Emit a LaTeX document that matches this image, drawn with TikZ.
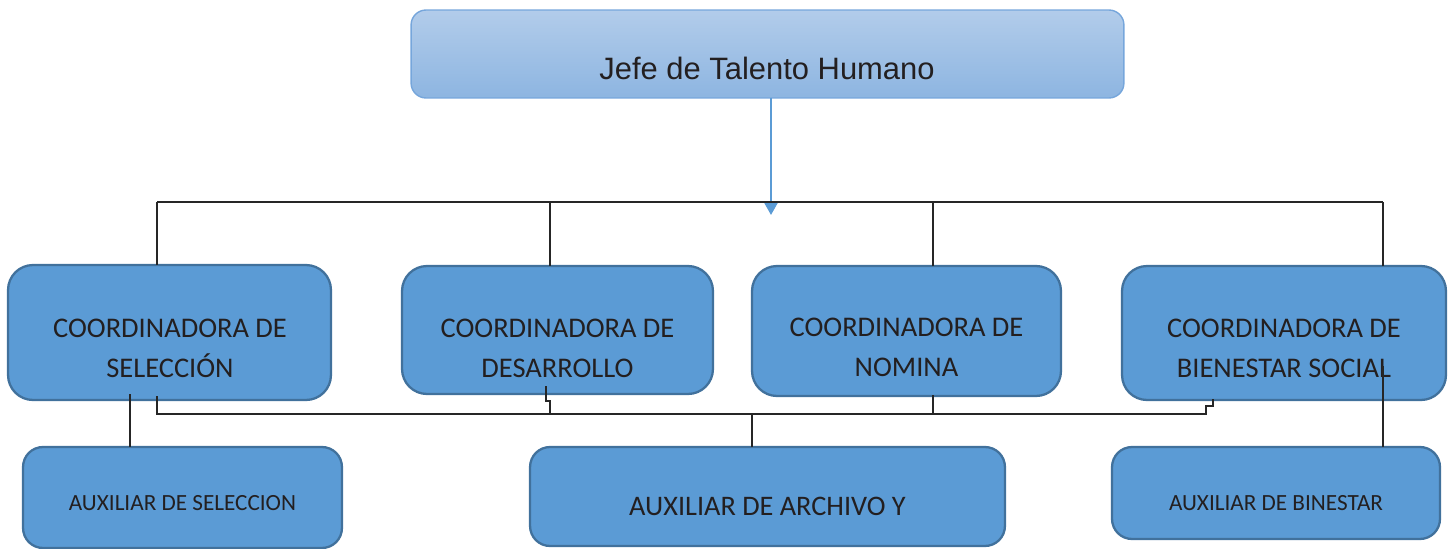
\documentclass[tikz,border=0pt]{standalone}
\usepackage{fontspec}
\setmainfont{Carlito}
\newfontfamily\headfont{Liberation Sans}
\usetikzlibrary{arrows.meta}
\definecolor{boxblue}{RGB}{91,155,213}
\definecolor{boxedge}{RGB}{65,113,156}
\definecolor{headtop}{RGB}{178,204,234}
\definecolor{headbot}{RGB}{141,181,225}
\definecolor{headedge}{RGB}{118,166,219}
\definecolor{textgray}{RGB}{35,31,32}
\tikzset{
  unit/.style={draw=boxedge, line width=1.3pt, fill=boxblue, inner sep=0pt, outer sep=0pt},
  head/.style={draw=headedge, line width=0.8pt, top color=headtop, bottom color=headbot,
    rounded corners=0.3cm, inner sep=0pt, outer sep=0pt},
  bigtext/.style={font=\fontsize{16.2}{22.8}\selectfont, text=textgray, align=center},
  smalltext/.style={font=\fontsize{13.2}{16}\selectfont, text=textgray},
  link/.style={draw=black!85, line width=0.8pt},
}

\begin{document}
\begin{tikzpicture}[x=0.02cm, y=-0.02cm]
  \useasboundingbox (0,0) rectangle (1454,548);

  % top box
  \node[head, minimum width=14.26cm, minimum height=1.76cm] (jefe) at (767.5,54) {};
  \node[anchor=base, font=\headfont\fontsize{17.6}{20}\selectfont, text=textgray] (jefetext) at (767,79) {Jefe de Talento Humano};

  % coordinators
  \foreach \n/\x/\y/\w/\h in {c1/169.5/332.5/6.46/2.70, c2/557.5/330/6.22/2.56,
                              c3/906.5/331/6.18/2.60, c4/1284/333/6.48/2.68}
    \node[unit, rounded corners=0.5cm, minimum width=\w cm, minimum height=\h cm] (\n) at (\x,\y) {};
  \node[bigtext] (c1text) at (170,348) {COORDINADORA DE\\SELECCIÓN};
  \node[bigtext] (c2text) at (557.5,348) {COORDINADORA DE\\DESARROLLO};
  \node[bigtext] (c3text) at (906.5,347) {COORDINADORA DE\\NOMINA};
  \node[bigtext] (c4text) at (1284,348) {COORDINADORA DE\\BIENESTAR SOCIAL};

  % assistants
  \foreach \n/\x/\y/\w/\h in {a1/182.5/497.5/6.38/2.02, a2/767.5/496.5/9.50/1.98, a3/1276/493/6.56/1.84}
    \node[unit, rounded corners=0.4cm, minimum width=\w cm, minimum height=\h cm] (\n) at (\x,\y) {};
  \node[smalltext, anchor=base] (a1text) at (182.5,510) {AUXILIAR DE SELECCION};
  \node[bigtext, anchor=base, font=\fontsize{16.1}{20}\selectfont] (a2text) at (767.5,515) {AUXILIAR DE ARCHIVO Y};
  \node[smalltext, anchor=base] (a3text) at (1276,510) {AUXILIAR DE BINESTAR};

  % arrow from the head
  \coordinate (tip) at (771,215);
  \draw[draw=boxblue, line width=1.3pt, -{Triangle[width=14*0.5688pt, length=13*0.5688pt]}]
    (tip |- jefe.south) -- (tip);

  % upper bus
  \coordinate (d1) at (157,202);
  \coordinate (d2) at (550,202);
  \coordinate (d3) at (933,202);
  \coordinate (d4) at (1383,202);
  \draw[link] (d1) -- (d4);
  \foreach \d/\n in {d1/c1, d2/c2, d3/c3, d4/c4}
    \draw[link] (\d) -- (\d |- \n.north);

  % lower bus
  \coordinate (u1) at (157,396);
  \coordinate (u2) at (546,386);
  \coordinate (u3) at (933,395);
  \coordinate (u4) at (1213,399);
  \draw[link] (u1) -- (157,414) -- (1206,414) -- (1206,406) -- (1213,406) -- (u4);
  \draw[link] (u2) -- (546,401) -- (550,401) -- (550,414);
  \draw[link] (u3) -- (933,414);
  \coordinate (m2) at (752,414);
  \draw[link] (m2) -- (m2 |- a2.north);

  % drops to the assistants
  \coordinate (s1) at (130,394);
  \coordinate (s3) at (1383,366);
  \draw[link] (s1) -- (s1 |- a1.north);
  \draw[link] (s3) -- (s3 |- a3.north);
\end{tikzpicture}
\end{document}
